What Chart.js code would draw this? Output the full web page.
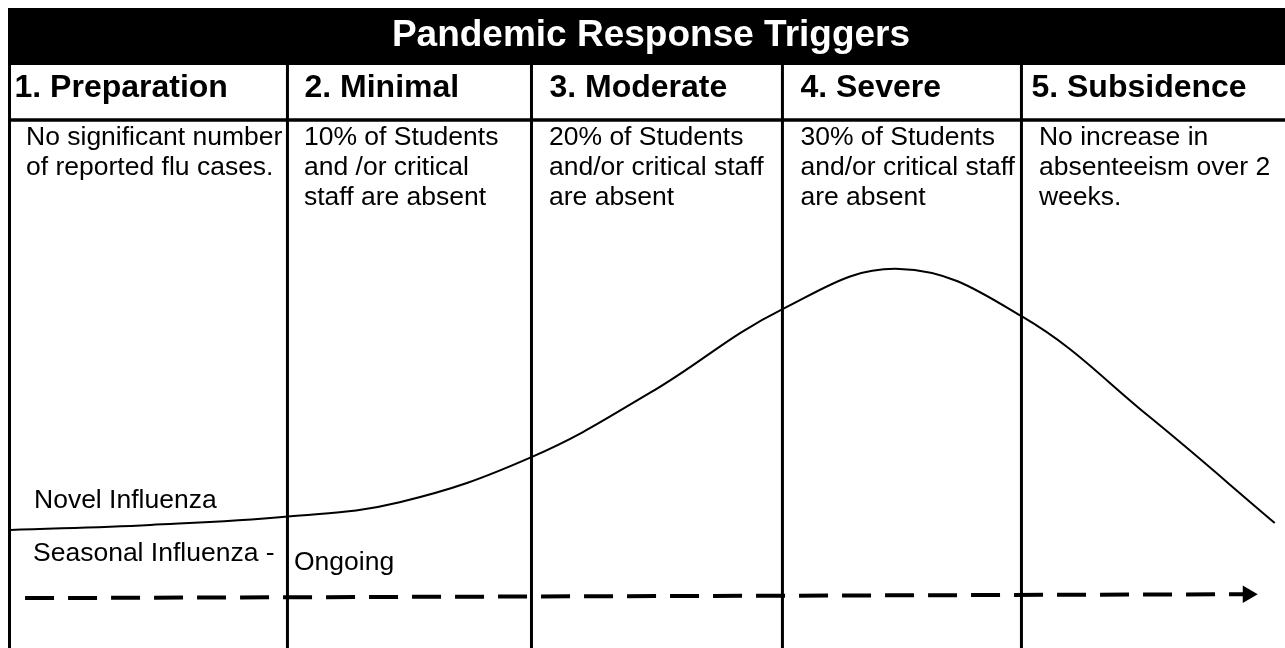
<!DOCTYPE html>
<html>
<head>
<meta charset="utf-8">
<script src="https://cdn.jsdelivr.net/npm/chart.js@4.4.1/dist/chart.umd.min.js"></script>
<style>
  html, body { margin: 0; padding: 0; background: #fff; }
  #wrap { width: 1285px; height: 648px; }
</style>
</head>
<body>
<div id="wrap"><canvas id="triggerChart"></canvas></div>
<script>
  // Phase names and trigger descriptions
  const phases = ['1. Preparation', '2. Minimal', '3. Moderate', '4. Severe', '5. Subsidence'];
  const triggers = [
    ['No significant number', 'of reported flu cases.'],
    ['10% of Students', 'and /or critical', 'staff are absent'],
    ['20% of Students', 'and/or critical staff', 'are absent'],
    ['30% of Students', 'and/or critical staff', 'are absent'],
    ['No increase in', 'absenteeism over 2', 'weeks.']
  ];
  // Where each phase starts on the timeline (0-100)
  const phaseStarts = [0.74, 22.37, 41.36, 60.89, 79.49];

  // Novel influenza curve (timeline position, level 0-100)
  const novelX = [0.8, 11.7, 22.4, 31.1, 41.4, 50.6, 60.9, 70.0, 79.5, 89.5, 99.2];
  const novelY = [18.2, 19.0, 20.3, 22.5, 29.5, 39.4, 52.3, 58.5, 51.2, 35.6, 19.3];

  // Seasonal influenza - ongoing baseline
  const seasonalX = [1.95, 97.1];
  const seasonalY = [7.7, 8.3];

  const FONT = '"Liberation Sans", Arial, sans-serif';

  const tablePlugin = {
    id: 'table',
    beforeDatasetsDraw(chart) {
      const ctx = chart.ctx;
      const x = chart.scales.x;
      const W = chart.width, H = chart.height;
      const lefts = phaseStarts.map(v => x.getPixelForValue(v));

      ctx.save();
      // title bar
      ctx.fillStyle = '#000';
      ctx.fillRect(8, 8, W - 8, 57);
      ctx.fillStyle = '#fff';
      ctx.font = 'bold 37px ' + FONT;
      ctx.textAlign = 'center';
      ctx.textBaseline = 'alphabetic';
      ctx.fillText('Pandemic Response Triggers', 651, 46);

      // header bottom rule
      ctx.strokeStyle = '#000';
      ctx.lineWidth = 3.5;
      ctx.beginPath();
      ctx.moveTo(8, 120);
      ctx.lineTo(W, 120);
      ctx.stroke();

      // column rules
      ctx.lineWidth = 3;
      lefts.forEach(px => {
        ctx.beginPath();
        ctx.moveTo(px, 65);
        ctx.lineTo(px, H);
        ctx.stroke();
      });

      // headers and trigger text
      const headPad = [5, 17, 18, 18, 10];
      const bodyPad = [16.5, 16.5, 17.5, 18, 17.5];
      ctx.fillStyle = '#000';
      ctx.textAlign = 'left';
      phases.forEach((p, i) => {
        ctx.font = 'bold 32px ' + FONT;
        ctx.fillText(p, lefts[i] + headPad[i], 97);
        ctx.font = '26.5px ' + FONT;
        triggers[i].forEach((line, j) => {
          ctx.fillText(line, lefts[i] + bodyPad[i], 145 + j * 30);
        });
      });

      // series labels
      ctx.font = '26.5px ' + FONT;
      ctx.fillText('Novel Influenza', 34, 508);
      ctx.fillText('Seasonal Influenza -', 33, 561);
      ctx.fillText('Ongoing', 294, 570);
      ctx.restore();
    }
  };

  const ctx = document.getElementById('triggerChart').getContext('2d');
  new Chart(ctx, {
    type: 'line',
    data: {
      datasets: [{
        label: 'Novel Influenza',
        data: novelX.map((v, i) => ({ x: v, y: novelY[i] })),
        borderColor: '#000',
        borderWidth: 2,
        pointRadius: 0,
        tension: 0.4,
        fill: false
      }, {
        label: 'Seasonal Influenza - Ongoing',
        data: seasonalX.map((v, i) => ({ x: v, y: seasonalY[i] })),
        borderColor: '#000',
        backgroundColor: '#000',
        borderWidth: 4,
        borderDash: [29, 14],
        pointStyle: 'triangle',
        pointRotation: 90,
        pointRadius: [0, 10],
        pointBorderWidth: 0,
        fill: false
      }]
    },
    options: {
      responsive: true,
      maintainAspectRatio: false,
      animation: false,
      layout: { padding: 0, autoPadding: false },
      plugins: {
        legend: { display: false },
        tooltip: { enabled: false },
        title: { display: false }
      },
      scales: {
        x: { type: 'linear', min: 0, max: 100, display: false },
        y: { type: 'linear', min: 0, max: 100, display: false }
      }
    },
    plugins: [tablePlugin]
  });
</script>
</body>
</html>
